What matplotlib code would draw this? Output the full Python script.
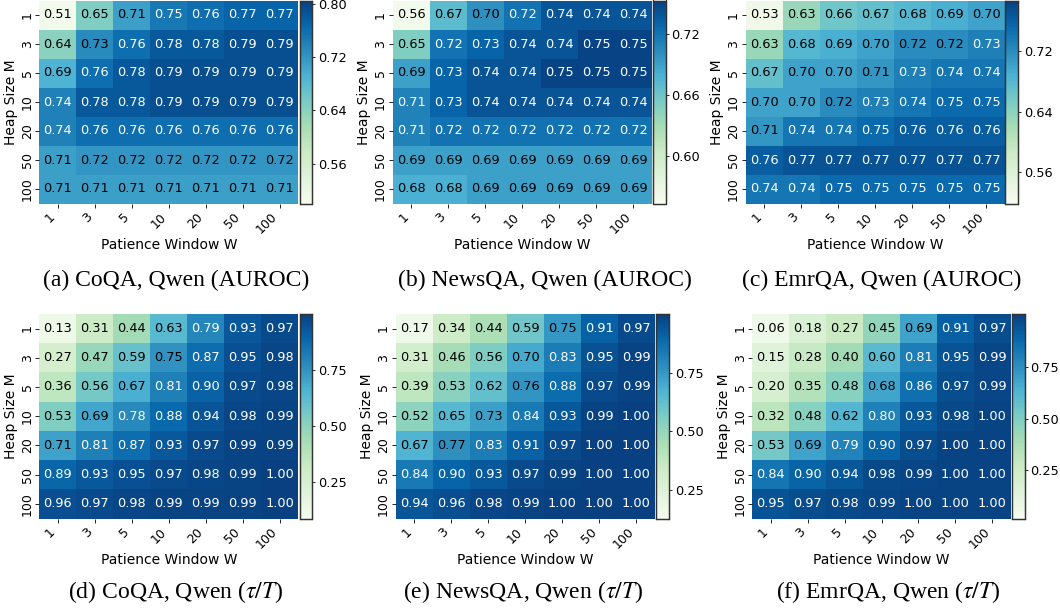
import matplotlib
matplotlib.use("Agg")
import matplotlib.pyplot as plt
import numpy as np
import seaborn as sns

plt.rcParams['mathtext.fontset'] = 'stix'

heap_sizes = ["1", "3", "5", "10", "20", "50", "100"]
patience = ["1", "3", "5", "10", "20", "50", "100"]

coqa_auroc = [
    [0.51, 0.65, 0.71, 0.75, 0.76, 0.77, 0.77],
    [0.64, 0.73, 0.76, 0.78, 0.78, 0.79, 0.79],
    [0.69, 0.76, 0.78, 0.79, 0.79, 0.79, 0.79],
    [0.74, 0.78, 0.78, 0.79, 0.79, 0.79, 0.79],
    [0.74, 0.76, 0.76, 0.76, 0.76, 0.76, 0.76],
    [0.71, 0.72, 0.72, 0.72, 0.72, 0.72, 0.72],
    [0.71, 0.71, 0.71, 0.71, 0.71, 0.71, 0.71],
]
newsqa_auroc = [
    [0.56, 0.67, 0.70, 0.72, 0.74, 0.74, 0.74],
    [0.65, 0.72, 0.73, 0.74, 0.74, 0.75, 0.75],
    [0.69, 0.73, 0.74, 0.74, 0.75, 0.75, 0.75],
    [0.71, 0.73, 0.74, 0.74, 0.74, 0.74, 0.74],
    [0.71, 0.72, 0.72, 0.72, 0.72, 0.72, 0.72],
    [0.69, 0.69, 0.69, 0.69, 0.69, 0.69, 0.69],
    [0.68, 0.68, 0.69, 0.69, 0.69, 0.69, 0.69],
]
emrqa_auroc = [
    [0.53, 0.63, 0.66, 0.67, 0.68, 0.69, 0.70],
    [0.63, 0.68, 0.69, 0.70, 0.72, 0.72, 0.73],
    [0.67, 0.70, 0.70, 0.71, 0.73, 0.74, 0.74],
    [0.70, 0.70, 0.72, 0.73, 0.74, 0.75, 0.75],
    [0.71, 0.74, 0.74, 0.75, 0.76, 0.76, 0.76],
    [0.76, 0.77, 0.77, 0.77, 0.77, 0.77, 0.77],
    [0.74, 0.74, 0.75, 0.75, 0.75, 0.75, 0.75],
]
coqa_tau = [
    [0.13, 0.31, 0.44, 0.63, 0.79, 0.93, 0.97],
    [0.27, 0.47, 0.59, 0.75, 0.87, 0.95, 0.98],
    [0.36, 0.56, 0.67, 0.81, 0.90, 0.97, 0.98],
    [0.53, 0.69, 0.78, 0.88, 0.94, 0.98, 0.99],
    [0.71, 0.81, 0.87, 0.93, 0.97, 0.99, 0.99],
    [0.89, 0.93, 0.95, 0.97, 0.98, 0.99, 1.00],
    [0.96, 0.97, 0.98, 0.99, 0.99, 0.99, 1.00],
]
newsqa_tau = [
    [0.17, 0.34, 0.44, 0.59, 0.75, 0.91, 0.97],
    [0.31, 0.46, 0.56, 0.70, 0.83, 0.95, 0.99],
    [0.39, 0.53, 0.62, 0.76, 0.88, 0.97, 0.99],
    [0.52, 0.65, 0.73, 0.84, 0.93, 0.99, 1.00],
    [0.67, 0.77, 0.83, 0.91, 0.97, 1.00, 1.00],
    [0.84, 0.90, 0.93, 0.97, 0.99, 1.00, 1.00],
    [0.94, 0.96, 0.98, 0.99, 1.00, 1.00, 1.00],
]
emrqa_tau = [
    [0.06, 0.18, 0.27, 0.45, 0.69, 0.91, 0.97],
    [0.15, 0.28, 0.40, 0.60, 0.81, 0.95, 0.99],
    [0.20, 0.35, 0.48, 0.68, 0.86, 0.97, 0.99],
    [0.32, 0.48, 0.62, 0.80, 0.93, 0.98, 1.00],
    [0.53, 0.69, 0.79, 0.90, 0.97, 1.00, 1.00],
    [0.84, 0.90, 0.94, 0.98, 0.99, 1.00, 1.00],
    [0.95, 0.97, 0.98, 0.99, 1.00, 1.00, 1.00],
]

W, H = 1060, 613
fig = plt.figure(figsize=(W / 100, H / 100), dpi=100)

def rect(x0, y0, x1, y1):
    return [x0 / W, 1 - y1 / H, (x1 - x0) / W, (y1 - y0) / H]

# (data, caption, heatmap box, colorbar x range, vmin, vmax, cbar ticks, caption x, caption y)
panels = [
    (coqa_auroc, "(a) CoQA, Qwen (AUROC)", (39.3, 0.5, 298.3, 203.5), (299.5, 312.3),
     0.50, 0.805, [0.56, 0.64, 0.72, 0.80], 176, 280),
    (newsqa_auroc, "(b) NewsQA, Qwen (AUROC)", (392.7, 0.5, 651.7, 203.5), (652.7, 665.7),
     0.553, 0.753, [0.60, 0.66, 0.72], 545, 280),
    (emrqa_auroc, "(c) EmrQA, Qwen (AUROC)", (745.7, 0.5, 1005, 203.5), (1005, 1018.3),
     0.519, 0.786, [0.56, 0.64, 0.72], 882, 280),
    (coqa_tau, r"(d) CoQA, Qwen ($\tau/T$)", (39.3, 313.9, 298.3, 518.5), (299.5, 312.3),
     0.085, 1.0, [0.25, 0.50, 0.75], 176, 592),
    (newsqa_tau, r"(e) NewsQA, Qwen ($\tau/T$)", (395.7, 313.9, 655, 518.5), (655.7, 669.3),
     0.13, 1.0, [0.25, 0.50, 0.75], 523, 592),
    (emrqa_tau, r"(f) EmrQA, Qwen ($\tau/T$)", (752.3, 313.9, 1010.7, 518.5), (1011.5, 1025),
     0.015, 1.01, [0.25, 0.50, 0.75], 888, 592),
]

for data, cap, box, cbx, vmin, vmax, cticks, cx, cy in panels:
    arr = np.array(data)
    ax = fig.add_axes(rect(*box))
    cax = fig.add_axes(rect(cbx[0], box[1], cbx[1], box[3]))
    sns.heatmap(arr, ax=ax, cbar_ax=cax, cmap="GnBu", vmin=vmin, vmax=vmax,
                annot=False, xticklabels=patience, yticklabels=heap_sizes)
    # cell labels: white text on the darker cells
    for i in range(arr.shape[0]):
        for j in range(arr.shape[1]):
            frac = (arr[i, j] - vmin) / (vmax - vmin)
            ax.text(j + 0.5, i + 0.5, "%.2f" % arr[i, j], ha="center", va="center",
                    fontsize=9.3, color="white" if frac > 0.755 else "black")
    ax.set_xticklabels(patience, rotation=45, ha="right", fontsize=9)
    ax.set_yticklabels(heap_sizes, rotation=90, va="center", fontsize=9)
    ax.tick_params(axis="x", length=3, width=0.6, pad=2)
    ax.tick_params(axis="y", length=3, width=0.6, pad=1)
    ax.set_xlabel("Patience Window W", fontsize=10, labelpad=1)
    ax.set_ylabel("Heap Size M", fontsize=10, labelpad=2)
    cax.set_yticks(cticks)
    cax.set_yticklabels(["%.2f" % t for t in cticks])
    cax.tick_params(labelsize=9.3, length=2.5, width=0.6, pad=1.5)
    for s in cax.spines.values():
        s.set_visible(True)
        s.set_linewidth(0.9)
        s.set_edgecolor("#333333")
    fig.text(cx / W, 1 - cy / H, cap, ha="center", va="center",
             fontsize=17, family="Liberation Serif")

fig.savefig("out.png", dpi=100)
